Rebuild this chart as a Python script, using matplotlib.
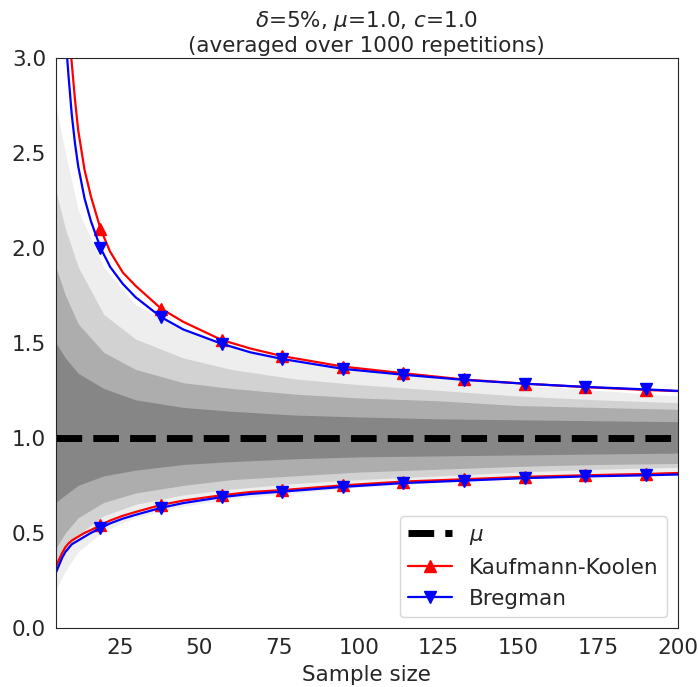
import numpy as np
import matplotlib.pyplot as plt
import seaborn as sns

sns.set_style('white')
plt.rcParams['font.family'] = ['DejaVu Sans']

n = [5, 6, 7, 8, 9, 10, 11, 12, 14, 16, 19, 22, 26, 30, 38, 45, 57, 66, 76, 95,
     114, 133, 152, 171, 190, 200]
kk_upper = [4.6, 4.1, 3.7, 3.4, 3.15, 2.97, 2.78, 2.62, 2.41, 2.27, 2.10, 1.98, 1.87,
            1.80, 1.68, 1.61, 1.515, 1.47, 1.43, 1.375, 1.34, 1.307, 1.285, 1.267,
            1.252, 1.246]
breg_upper = [4.1, 3.7, 3.38, 3.12, 2.9, 2.70, 2.55, 2.43, 2.26, 2.14, 2.00, 1.90, 1.81,
              1.74, 1.635, 1.57, 1.495, 1.45, 1.415, 1.363, 1.332, 1.305, 1.285, 1.268,
              1.255, 1.247]
kk_lower = [0.32, 0.36, 0.395, 0.425, 0.445, 0.46, 0.47, 0.48, 0.50, 0.515, 0.54, 0.565,
            0.59, 0.61, 0.647, 0.67, 0.698, 0.715, 0.725, 0.75, 0.77, 0.782, 0.795,
            0.803, 0.81, 0.815]
breg_lower = [0.29, 0.33, 0.37, 0.40, 0.42, 0.44, 0.45, 0.46, 0.48, 0.50, 0.525, 0.55,
              0.575, 0.595, 0.632, 0.657, 0.688, 0.705, 0.717, 0.742, 0.762, 0.775,
              0.788, 0.797, 0.803, 0.807]
marks = [10, 14, 16, 18, 19, 20, 21, 22, 23, 24]
mu = 1.0

# spread of the 1000 running means (outer -> inner)
env_n = [5, 8, 12, 20, 30, 45, 60, 80, 100, 125, 150, 175, 200]
env_hi = [
    [2.75, 2.5, 2.2, 1.9, 1.7, 1.57, 1.48, 1.41, 1.36, 1.32, 1.28, 1.25, 1.22],
    [2.3, 2.1, 1.9, 1.65, 1.52, 1.42, 1.36, 1.31, 1.28, 1.25, 1.22, 1.2, 1.185],
    [1.9, 1.75, 1.6, 1.45, 1.36, 1.29, 1.26, 1.23, 1.21, 1.195, 1.17, 1.16, 1.15],
    [1.5, 1.42, 1.34, 1.26, 1.2, 1.16, 1.14, 1.12, 1.11, 1.1, 1.095, 1.09, 1.085],
]
env_lo = [
    [0.2, 0.3, 0.4, 0.51, 0.58, 0.64, 0.68, 0.71, 0.74, 0.765, 0.785, 0.8, 0.82],
    [0.3, 0.4, 0.49, 0.59, 0.65, 0.7, 0.73, 0.76, 0.78, 0.8, 0.82, 0.835, 0.845],
    [0.42, 0.5, 0.58, 0.66, 0.71, 0.75, 0.78, 0.8, 0.82, 0.835, 0.85, 0.86, 0.865],
    [0.66, 0.7, 0.75, 0.8, 0.83, 0.86, 0.875, 0.89, 0.9, 0.905, 0.91, 0.915, 0.92],
]
env_alpha = [0.13, 0.25, 0.45, 0.85]

fig = plt.figure(figsize=(6.98, 6.87), dpi=100)
ax = fig.add_axes([0.080, 0.086, 0.891, 0.830])

for hi, lo, a in zip(env_hi, env_lo, env_alpha):
    ax.fill_between(env_n, lo, hi, color='gray', alpha=a, lw=0)

ax.axhline(mu, color='black', ls='--', lw=5, label=r'$\mu$')

ax.plot(n, kk_upper, color='red', lw=1.6, marker='^', ms=9, markevery=marks,
        label='Kaufmann-Koolen')
ax.plot(n, breg_upper, color='blue', lw=1.6, marker='v', ms=9, markevery=marks,
        label='Bregman')
ax.plot(n, kk_lower, color='red', lw=1.6, marker='^', ms=9, markevery=marks)
ax.plot(n, breg_lower, color='blue', lw=1.6, marker='v', ms=9, markevery=marks)

ax.set_xlim(5, 200)
ax.set_ylim(0, 3.0)
ax.set_xticks([25, 50, 75, 100, 125, 150, 175, 200])
ax.tick_params(labelsize=15.5)
ax.set_xlabel('Sample size', fontsize=15.5, labelpad=5)
ax.set_title('$\\delta$=5%, $\\mu$=1.0, $c$=1.0\n(averaged over 1000 repetitions)',
             fontsize=15.5, pad=4)
ax.legend(loc='lower right', fontsize=15.5)

fig.savefig('out.png', dpi=100)
